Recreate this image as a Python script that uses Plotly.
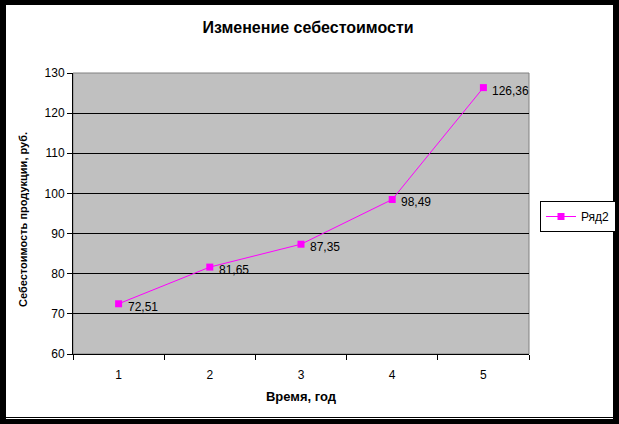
import plotly.graph_objects as go

years = [1, 2, 3, 4, 5]
cost = [72.51, 81.65, 87.35, 98.49, 126.36]
cost_labels = ["72,51", "81,65", "87,35", "98,49", "126,36"]
series_name = "Ряд2"

W, H = 619, 424
L, R, T, B = 73, 529, 73, 354


def px(x):
    return (x - L) / (R - L)


def py_(y):
    return (B - y) / (B - T)


fnt = "Liberation Sans, Arial, sans-serif"

fig = go.Figure()
fig.add_trace(go.Scatter(
    x=years, y=cost, mode="lines+markers", name=series_name,
    line=dict(color="#FF00FF", width=1),
    marker=dict(symbol="square", size=7, color="#FF00FF"),
    cliponaxis=False,
))

# data labels, to the right of and slightly below each point
annotations = [dict(x=xv, y=yv, xref="x", yref="y", text=lbl, showarrow=False,
                    xanchor="left", yanchor="middle", xshift=7, yshift=-3,
                    font=dict(family=fnt, size=12, color="black"))
               for xv, yv, lbl in zip(years, cost, cost_labels)]
annotations.append(dict(text="<b>Себестоимость продукции, руб.</b>", textangle=-90,
                        xref="paper", yref="paper", x=px(15), y=py_(220),
                        showarrow=False, font=dict(size=11, family=fnt)))

shapes = [
    # plot area border
    dict(type="rect", xref="paper", yref="paper", x0=0, x1=1, y0=0, y1=1,
         line=dict(color="#808080", width=1), layer="below"),
]
# black frame around chart
for x0, x1, y0, y1 in [(0, W, 0, 5), (0, 6, 0, H), (613, W, 0, H), (0, W, 417, H)]:
    shapes.append(dict(type="rect", xref="paper", yref="paper",
                       x0=px(x0), x1=px(x1), y0=py_(y1), y1=py_(y0),
                       fillcolor="black", line=dict(width=0), layer="above"))
shapes.append(dict(type="line", xref="paper", yref="paper",
                   x0=px(6), x1=px(613), y0=py_(418.5), y1=py_(418.5),
                   line=dict(color="white", width=1), layer="above"))

fig.update_layout(
    width=W, height=H,
    margin=dict(l=L, r=W - R, t=T, b=H - B, autoexpand=False),
    paper_bgcolor="white", plot_bgcolor="#C0C0C0",
    font=dict(family=fnt, size=12, color="black"),
    title=dict(text="<b>Изменение себестоимости</b>", x=px(308), xref="paper",
               xanchor="center", y=1 - 27 / H, yanchor="middle",
               font=dict(size=16, family=fnt)),
    showlegend=True,
    legend=dict(x=540 / W, y=1 - 201 / H, xref="container", yref="container",
                xanchor="left", yanchor="top",
                bordercolor="black", borderwidth=1, bgcolor="white",
                font=dict(size=12, family=fnt), itemwidth=30),
    shapes=shapes,
    annotations=annotations,
)
fig.update_xaxes(
    range=[0.5, 5.5], tickvals=years, ticktext=[str(v) for v in years],
    ticks="", showgrid=False, zeroline=False,
    showline=True, linecolor="black", linewidth=1,
    minor=dict(tickvals=[0.5, 1.5, 2.5, 3.5, 4.5, 5.5], ticks="outside",
               ticklen=5, tickcolor="black", showgrid=False),
    tickfont=dict(size=12), ticklabelstandoff=10,
    title=dict(text="<b>Время, год</b>", font=dict(size=13), standoff=10),
)
fig.update_yaxes(
    range=[60, 130], dtick=10, ticks="outside", ticklen=5, tickcolor="black",
    showgrid=True, gridcolor="black", gridwidth=1, zeroline=False,
    showline=True, linecolor="black", linewidth=1,
    tickfont=dict(size=12),
)

fig.write_html("out.html", config={"displayModeBar": False}, post_script=(
    "document.body.style.margin='0';"
    "document.body.style.overflow='hidden';"
))
